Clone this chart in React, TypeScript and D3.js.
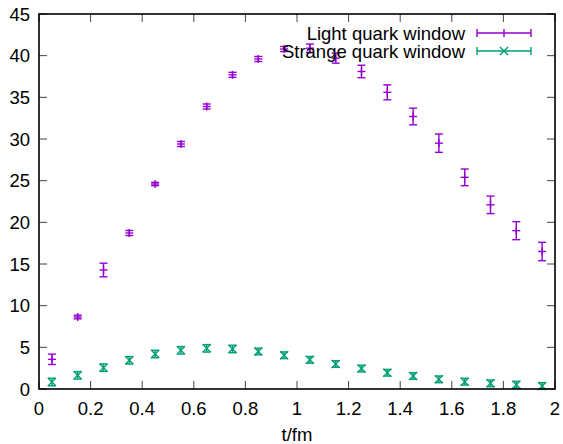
import React from "react";
import * as d3 from "d3";

const tValues = [0.05, 0.15, 0.25, 0.35, 0.45, 0.55, 0.65, 0.75, 0.85, 0.95, 1.05, 1.15, 1.25, 1.35, 1.45, 1.55, 1.65, 1.75, 1.85, 1.95];
const lightValues = [3.56, 8.64, 14.28, 18.72, 24.6, 29.4, 33.9, 37.7, 39.6, 40.8, 40.9, 39.7, 38.1, 35.6, 32.7, 29.5, 25.4, 22.1, 19.0, 16.5];
const lightErrors = [0.62, 0.22, 0.82, 0.3, 0.2, 0.3, 0.3, 0.3, 0.3, 0.3, 0.5, 0.6, 0.75, 0.9, 1.0, 1.1, 1.0, 1.05, 1.08, 1.1];
const strangeValues = [0.84, 1.64, 2.56, 3.44, 4.2, 4.64, 4.88, 4.8, 4.5, 4.05, 3.5, 3.0, 2.45, 1.95, 1.56, 1.16, 0.88, 0.68, 0.52, 0.36];
const strangeErrors = [0.45, 0.45, 0.45, 0.45, 0.45, 0.45, 0.45, 0.45, 0.4, 0.4, 0.4, 0.4, 0.4, 0.4, 0.4, 0.4, 0.4, 0.4, 0.4, 0.4];
const xTicks = [0, 0.2, 0.4, 0.6, 0.8, 1, 1.2, 1.4, 1.6, 1.8, 2];
const yTicks = [0, 5, 10, 15, 20, 25, 30, 35, 40, 45];
const seriesNames = ["Light quark window", "Strange quark window"];
const seriesColors = ["#9400d3", "#009e73"];

const W = 563, H = 444;
const L = 39, R = 555, T = 14, B = 389;
const FONT = "'Liberation Sans', Arial, Helvetica, sans-serif";
const FS = 18.5;

export default function App() {
  const x = d3.scaleLinear().domain([0, 2]).range([L, R]);
  const y = d3.scaleLinear().domain([0, 45]).range([B, T]);
  const cap = 4;
  const ms = 4;

  const errorBars = (vals: number[], errs: number[], color: string, marker: "plus" | "cross", key: string) =>
    tValues.map((t, i) => {
      const cx = x(t), cy = y(vals[i]);
      const y1 = y(vals[i] + errs[i]), y2 = y(vals[i] - errs[i]);
      return (
        <g key={key + i} stroke={color} strokeWidth={1.4} fill="none">
          <line x1={cx} x2={cx} y1={y1} y2={y2} />
          <line x1={cx - cap} x2={cx + cap} y1={y1} y2={y1} />
          <line x1={cx - cap} x2={cx + cap} y1={y2} y2={y2} />
          {marker === "plus" ? (
            <>
              <line x1={cx - ms} x2={cx + ms} y1={cy} y2={cy} />
              <line x1={cx} x2={cx} y1={cy - ms} y2={cy + ms} />
            </>
          ) : (
            <>
              <line x1={cx - ms} x2={cx + ms} y1={cy - ms} y2={cy + ms} />
              <line x1={cx - ms} x2={cx + ms} y1={cy + ms} y2={cy - ms} />
            </>
          )}
        </g>
      );
    });

  const legendRows = [33, 51];
  const sx1 = 477, sx2 = 531, smid = (sx1 + sx2) / 2;

  return (
    <svg width={W} height={H} style={{ position: "absolute", left: 0, top: 0, background: "#fff" }} fontFamily={FONT}>
      <rect x={0} y={0} width={W} height={H} fill="#fff" />
      {xTicks.map((t) => (
        <g key={"xt" + t} stroke="#444" strokeWidth={1}>
          <line x1={x(t)} x2={x(t)} y1={B} y2={B - 8} />
          <line x1={x(t)} x2={x(t)} y1={T} y2={T + 8} />
        </g>
      ))}
      {yTicks.map((v) => (
        <g key={"yt" + v} stroke="#444" strokeWidth={1}>
          <line x1={L} x2={L + 8} y1={y(v)} y2={y(v)} />
          <line x1={R} x2={R - 8} y1={y(v)} y2={y(v)} />
        </g>
      ))}
      {errorBars(lightValues, lightErrors, seriesColors[0], "plus", "l")}
      {errorBars(strangeValues, strangeErrors, seriesColors[1], "cross", "s")}
      <rect x={L} y={T} width={R - L} height={B - T} fill="none" stroke="#000" strokeWidth={1.6} />
      {xTicks.map((t) => (
        <text key={"xl" + t} x={x(t)} y={415} textAnchor="middle" fontSize={FS} fill="#000">
          {String(t)}
        </text>
      ))}
      {yTicks.map((v) => (
        <text key={"yl" + v} x={30} y={y(v) + 6.5} textAnchor="end" fontSize={FS} fill="#000">
          {String(v)}
        </text>
      ))}
      <text x={(L + R) / 2} y={441} textAnchor="middle" fontSize={FS} fill="#000">t/fm</text>
      {seriesNames.map((name, i) => {
        const ly = legendRows[i];
        const c = seriesColors[i];
        return (
          <g key={"lg" + i}>
            <text x={465} y={ly + 6.5} textAnchor="end" fontSize={FS} fill="#000">{name}</text>
            <g stroke={c} strokeWidth={1.4}>
              <line x1={sx1} x2={sx2} y1={ly} y2={ly} />
              <line x1={sx1} x2={sx1} y1={ly - cap} y2={ly + cap} />
              <line x1={sx2} x2={sx2} y1={ly - cap} y2={ly + cap} />
              {i === 0 ? (
                <line x1={smid} x2={smid} y1={ly - ms} y2={ly + ms} />
              ) : (
                <>
                  <line x1={smid - ms} x2={smid + ms} y1={ly - ms} y2={ly + ms} />
                  <line x1={smid - ms} x2={smid + ms} y1={ly + ms} y2={ly - ms} />
                </>
              )}
            </g>
          </g>
        );
      })}
    </svg>
  );
}
